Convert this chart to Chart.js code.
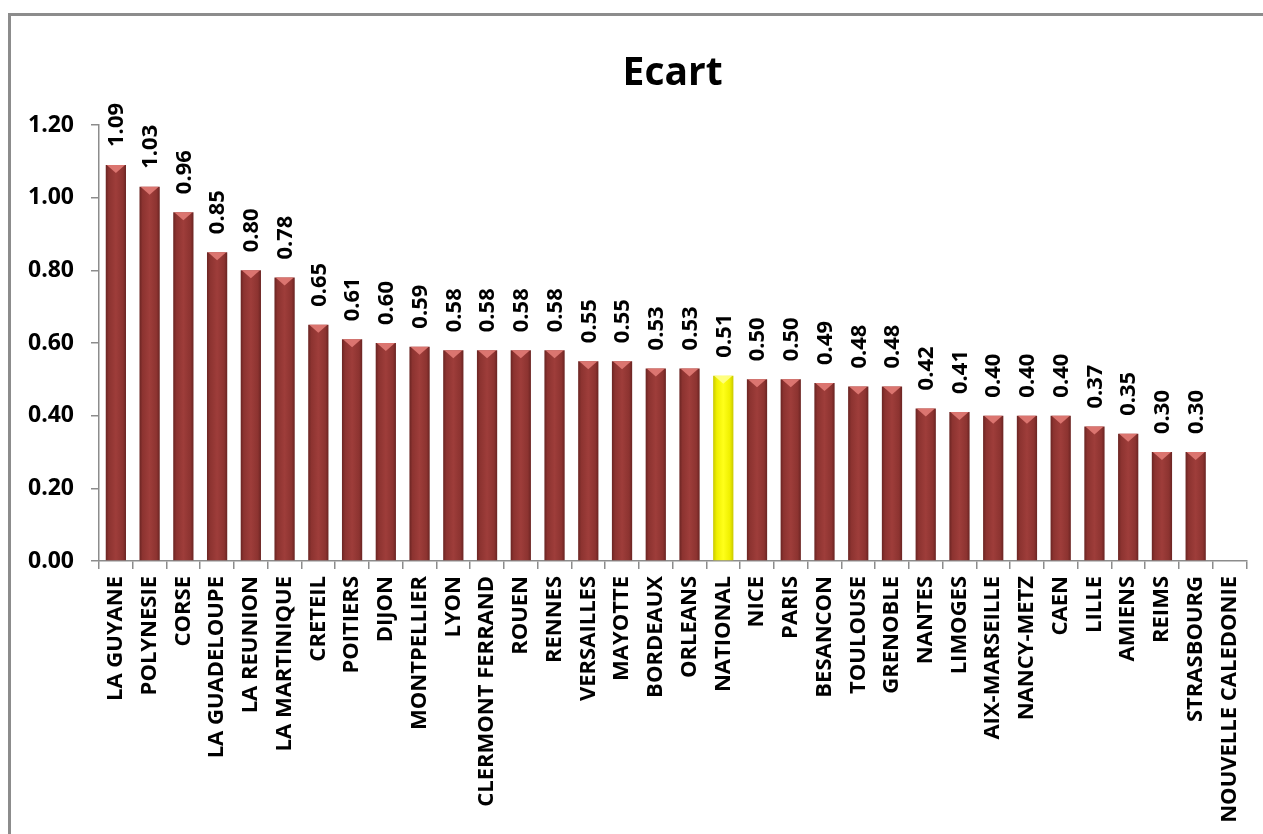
<!DOCTYPE html>
<html>
<head>
<meta charset="utf-8">
<script src="https://cdn.jsdelivr.net/npm/chart.js@4/dist/chart.umd.min.js"></script>
<style>
  html, body { margin: 0; padding: 0; background: #fff; overflow: hidden; width: 1263px; height: 834px; }
  #frame {
    position: absolute; left: 8px; top: 13px; width: 1300px; height: 900px;
    border-left: 3px solid #8c8c8c; border-top: 3px solid #8c8c8c;
  }
  #wrap { position: absolute; left: 0; top: 0; width: 1263px; height: 834px; }
</style>
</head>
<body>
<div id="frame"></div>
<div id="wrap"><canvas id="chart" width="1263" height="834"></canvas></div>
<script>
// academies, sorted by gap
const categories = [
  "LA GUYANE", "POLYNESIE", "CORSE", "LA GUADELOUPE", "LA REUNION", "LA MARTINIQUE",
  "CRETEIL", "POITIERS", "DIJON", "MONTPELLIER", "LYON", "CLERMONT FERRAND",
  "ROUEN", "RENNES", "VERSAILLES", "MAYOTTE", "BORDEAUX", "ORLEANS", "NATIONAL",
  "NICE", "PARIS", "BESANCON", "TOULOUSE", "GRENOBLE", "NANTES", "LIMOGES",
  "AIX-MARSEILLE", "NANCY-METZ", "CAEN", "LILLE", "AMIENS", "REIMS", "STRASBOURG",
  "NOUVELLE CALEDONIE"
];
const ecart = [
  1.09, 1.03, 0.96, 0.85, 0.80, 0.78,
  0.65, 0.61, 0.60, 0.59, 0.58, 0.58,
  0.58, 0.58, 0.55, 0.55, 0.53, 0.53, 0.51,
  0.50, 0.50, 0.49, 0.48, 0.48, 0.42, 0.41,
  0.40, 0.40, 0.40, 0.37, 0.35, 0.30, 0.30,
  null
];
const highlight = "NATIONAL";
const yTicks = [0, 0.2, 0.4, 0.6, 0.8, 1.0, 1.2];

const FONT = "'Open Sans', sans-serif";

function barFill(ctx) {
  const chart = ctx.chart;
  const isNat = categories[ctx.dataIndex] === highlight;
  const solid = isNat ? "#ffff00" : "#953735";
  const xs = chart.scales && chart.scales.x;
  if (!xs || !chart.chartArea || ctx.dataIndex === undefined) return solid;
  const cx = xs.getPixelForValue(ctx.dataIndex);
  const half = xs.width / categories.length * 0.3;
  const g = chart.ctx.createLinearGradient(cx - half, 0, cx + half, 0);
  if (isNat) {
    g.addColorStop(0, "#c8c800");
    g.addColorStop(0.18, "#f0f000");
    g.addColorStop(0.5, "#ffff1a");
    g.addColorStop(0.82, "#f0f000");
    g.addColorStop(1, "#c8c800");
  } else {
    g.addColorStop(0, "#6a2422");
    g.addColorStop(0.15, "#8c3330");
    g.addColorStop(0.5, "#9e3d3a");
    g.addColorStop(0.85, "#8c3330");
    g.addColorStop(1, "#6a2422");
  }
  return g;
}

// value labels above bars, rotated, plus the little bevel on top
const valueLabels = {
  id: "valueLabels",
  afterDatasetsDraw(chart) {
    const c = chart.ctx;
    const meta = chart.getDatasetMeta(0);
    meta.data.forEach((bar, i) => {
      const v = ecart[i];
      if (v === null) return;
      const w = bar.width;
      // bevel triangle
      c.save();
      const isNat = categories[i] === highlight;
      c.fillStyle = isNat ? "rgba(255,255,140,0.9)" : "rgba(222,120,115,0.95)";
      c.beginPath();
      c.moveTo(bar.x - w / 2 + 1, bar.y);
      c.lineTo(bar.x + w / 2 - 1, bar.y);
      c.lineTo(bar.x, bar.y + 8);
      c.closePath();
      c.fill();
      c.restore();

      c.save();
      c.translate(bar.x, bar.y - 18);
      c.rotate(-Math.PI / 2);
      c.font = "bold 22px " + FONT;
      c.fillStyle = "#000";
      c.textAlign = "left";
      c.textBaseline = "middle";
      c.fillText(v.toFixed(2), 0, 1);
      c.restore();
    });
  }
};

// title centred over the plot area
const plotTitle = {
  id: "plotTitle",
  afterDraw(chart) {
    const a = chart.chartArea;
    const c = chart.ctx;
    c.save();
    c.font = "bold 39px " + FONT;
    c.fillStyle = "#000";
    c.textAlign = "center";
    c.textBaseline = "middle";
    c.fillText("Ecart", (a.left + a.right) / 2, 74);
    c.restore();
  }
};

new Chart(document.getElementById("chart"), {
  type: "bar",
  data: {
    labels: categories,
    datasets: [{
      label: "Ecart",
      data: ecart,
      backgroundColor: barFill,
      borderWidth: 0,
      barPercentage: 0.6,
      categoryPercentage: 1.0
    }]
  },
  options: {
    responsive: false,
    animation: false,
    layout: { padding: { top: 125, right: 12, left: 0, bottom: 0 } },
    plugins: {
      legend: { display: false },
      tooltip: { enabled: false },
      title: { display: false }
    },
    scales: {
      x: {
        grid: { display: true, drawOnChartArea: false, offset: true, color: "#8c8c8c", tickLength: 8, lineWidth: 1.5 },
        border: { color: "#8c8c8c", width: 1.5 },
        ticks: {
          autoSkip: false,
          minRotation: 90,
          maxRotation: 90,
          padding: 7,
          color: "#000",
          font: { family: FONT, size: 22, weight: "bold" }
        },
        afterFit(scale) { scale.height = 834 - 561; }
      },
      y: {
        min: 0,
        max: 1.2,
        afterBuildTicks(scale) { scale.ticks = yTicks.map(v => ({ value: v })); },
        grid: { display: true, drawOnChartArea: false, color: "#8c8c8c", tickLength: 8, lineWidth: 1.5 },
        border: { color: "#8c8c8c", width: 1.5 },
        ticks: {
          color: "#000",
          padding: 17,
          font: { family: FONT, size: 23, weight: "bold" },
          callback: v => Number(v).toFixed(2)
        },
        afterFit(scale) { scale.width = 99; }
      }
    }
  },
  plugins: [valueLabels, plotTitle]
});
</script>
</body>
</html>
